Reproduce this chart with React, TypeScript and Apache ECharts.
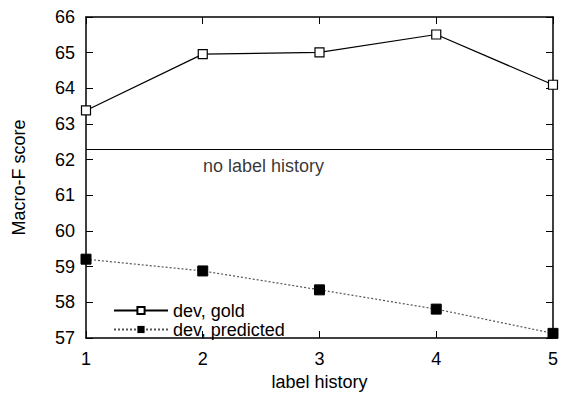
import React, { useEffect, useRef } from "react";
import * as echarts from "echarts";

const labelHistory = [1, 2, 3, 4, 5];
const devGold = [63.38, 64.96, 65.01, 65.51, 64.1];
const devPredicted = [59.21, 58.88, 58.35, 57.81, 57.13];
const noLabelHistory = 62.28;
const noLabelText = "no label history";

const FONT = "Liberation Sans";
const FS = 18;

export default function App() {
  const ref = useRef<HTMLDivElement>(null);
  useEffect(() => {
    const chart = echarts.init(ref.current!, null, { renderer: "svg" });
    const axisCommon = {
      type: "value" as const,
      axisLine: { show: true, lineStyle: { color: "#000", width: 1.5 } },
      axisTick: { show: true, inside: true, length: 7, lineStyle: { color: "#000", width: 1 } },
      splitLine: { show: false },
    };
    chart.setOption({
      animation: false,
      backgroundColor: "#fff",
      textStyle: { fontFamily: FONT },
      grid: { left: 86, right: 8, top: 17, bottom: 55 },
      legend: {
        orient: "vertical",
        left: 108,
        top: 296,
        itemWidth: 54,
        itemHeight: 9,
        itemGap: 0,
        textStyle: { fontFamily: FONT, fontSize: 18, color: "#000", lineHeight: 19 },
        data: ["dev, gold", "dev, predicted"],
      },
      xAxis: [
        {
          ...axisCommon,
          min: 1,
          max: 5,
          interval: 1,
          position: "bottom",
          name: "label history",
          nameLocation: "middle",
          nameGap: 35,
          nameTextStyle: { fontFamily: FONT, fontSize: FS, color: "#000" },
          axisLabel: { fontFamily: FONT, fontSize: FS, color: "#000", margin: 12 },
        },
        {
          ...axisCommon,
          min: 1,
          max: 5,
          interval: 1,
          position: "top",
          axisLabel: { show: false },
        },
      ],
      yAxis: [
        {
          ...axisCommon,
          min: 57,
          max: 66,
          interval: 1,
          position: "left",
          name: "Macro-F score",
          nameLocation: "middle",
          nameGap: 58,
          nameTextStyle: { fontFamily: FONT, fontSize: FS, color: "#000" },
          axisLabel: { fontFamily: FONT, fontSize: FS, color: "#000", margin: 11 },
        },
        {
          ...axisCommon,
          min: 57,
          max: 66,
          interval: 1,
          position: "right",
          axisLabel: { show: false },
        },
      ],
      series: [
        {
          name: "dev, gold",
          type: "line",
          data: labelHistory.map((x, i) => [x, devGold[i]]),
          symbol: "rect",
          symbolSize: 9,
          clip: false,
          itemStyle: { color: "#fff", borderColor: "#000", borderWidth: 1.2 },
          lineStyle: { color: "#000", width: 1.2, type: "solid" },
          markLine: {
            silent: true,
            symbol: "none",
            lineStyle: { color: "#000", width: 1, type: "solid" },
            label: { show: false },
            data: [{ yAxis: noLabelHistory }],
          },
          z: 3,
        },
        {
          name: "dev, predicted",
          type: "line",
          data: labelHistory.map((x, i) => [x, devPredicted[i]]),
          symbol: "rect",
          symbolSize: 10,
          clip: false,
          itemStyle: { color: "#000", borderColor: "#000" },
          lineStyle: { color: "#555", width: 1.2, type: [2, 2] },
          z: 3,
        },
        {
          name: "noLabel",
          type: "scatter",
          data: [[2.52, noLabelHistory - 0.47]],
          symbolSize: 0,
          silent: true,
          label: {
            show: true,
            position: "inside",
            formatter: noLabelText,
            fontFamily: FONT,
            fontSize: FS,
            color: "#000",
          },
        },
      ],
    });
    return () => chart.dispose();
  }, []);
  return (
    <div
      ref={ref}
      style={{ position: "absolute", left: 0, top: 0, width: 561, height: 396 }}
    />
  );
}
